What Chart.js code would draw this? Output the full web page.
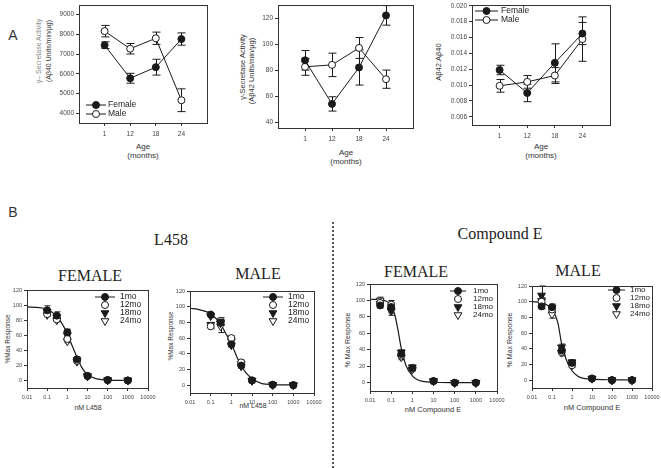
<!DOCTYPE html>
<html>
<head>
<meta charset="utf-8">
<script src="https://cdn.jsdelivr.net/npm/chart.js@4.4.0/dist/chart.umd.min.js"></script>
<style>
body { margin: 0; background: #fff; width: 661px; height: 468px; position: relative; overflow: hidden;
       font-family: Arial, "Liberation Sans", sans-serif; color: #333; }
canvas { position: absolute; }
.t { position: absolute; white-space: nowrap; transform: translate(-50%, -50%); line-height: 1; }
.v { transform: translate(-50%, -50%) rotate(-90deg); }
.serif { font-family: "Liberation Serif", "Times New Roman", serif; color: #222; }
</style>
</head>
<body>

<!-- panel letters and headings -->
<div class="t" style="left:13px;top:35px;font-size:14px">A</div>
<div class="t" style="left:13px;top:212px;font-size:14px">B</div>
<div class="t serif" style="left:171px;top:240px;font-size:16px">L458</div>
<div class="t serif" style="left:500px;top:234px;font-size:16px">Compound E</div>
<div class="t serif" style="left:90px;top:276px;font-size:16px">FEMALE</div>
<div class="t serif" style="left:258px;top:274px;font-size:16px">MALE</div>
<div class="t serif" style="left:416px;top:272px;font-size:16px">FEMALE</div>
<div class="t serif" style="left:578px;top:271px;font-size:16px">MALE</div>
<div style="position:absolute;left:332px;top:222px;height:246px;border-left:2px dotted #555"></div>

<!-- axis titles, top row -->
<div class="t v" style="left:38px;top:51px;font-size:7px;color:#888">γ– Secretase Activity</div>
<div class="t v" style="left:48px;top:51px;font-size:7px">(Aβ40 Units/min/μg)</div>
<div class="t" style="left:143px;top:147px;font-size:8px">Age</div>
<div class="t" style="left:143px;top:156px;font-size:8px">(months)</div>
<div class="t v" style="left:243px;top:67px;font-size:7.5px">γ-Secretase Activity</div>
<div class="t v" style="left:252px;top:71px;font-size:7.5px">(Aβ42 Units/min/μg)</div>
<div class="t" style="left:346px;top:153px;font-size:8px">Age</div>
<div class="t" style="left:346px;top:162px;font-size:8px">(months)</div>
<div class="t v" style="left:439px;top:62px;font-size:7.5px">Aβ42:Aβ40</div>
<div class="t" style="left:541px;top:147px;font-size:8px">Age</div>
<div class="t" style="left:541px;top:156px;font-size:8px">(months)</div>

<!-- axis titles, bottom row -->
<div class="t v" style="left:8px;top:339px;font-size:6.5px">%Max Response</div>
<div class="t" style="left:88px;top:407px;font-size:7px">nM L458</div>
<div class="t v" style="left:171px;top:336px;font-size:6.5px">%Max Response</div>
<div class="t" style="left:253px;top:405px;font-size:7px">nM L458</div>
<div class="t v" style="left:347px;top:340px;font-size:7px">% Max Response</div>
<div class="t" style="left:433px;top:410px;font-size:7.5px">nM Compound E</div>
<div class="t v" style="left:509px;top:340px;font-size:7px">% Max Response</div>
<div class="t" style="left:592px;top:408px;font-size:7.5px">nM Compound E</div>

<script>
// ---- Panel A: gamma-secretase activity by age ----
const ageLabels = ['1', '12', '18', '24'];

const ab40Female = [7450, 5780, 6340, 7760];
const ab40FemaleErr = [170, 250, 400, 310];
const ab40Male = [8160, 7270, 7800, 4670];
const ab40MaleErr = [290, 265, 310, 575];

const ab42Female = [87.5, 54, 82, 122];
const ab42FemaleErr = [7.5, 5.5, 13.5, 7.5];
const ab42Male = [82.5, 84, 97, 73];
const ab42MaleErr = [6.5, 9, 8, 7];

const ratioFemale = [0.0119, 0.0090, 0.0128, 0.0165];
const ratioFemaleErr = [0.0006, 0.0011, 0.0024, 0.0014];
const ratioMale = [0.0099, 0.0104, 0.0112, 0.0158];
const ratioMaleErr = [0.0008, 0.0008, 0.0010, 0.0028];

// ---- Panel B: dose response ----
const logTicks = [0.01, 0.1, 1, 10, 100, 1000, 10000];
const pctTicks = [0, 20, 40, 60, 80, 100, 120];
const ageGroups = ['1mo', '12mo', '18mo', '24mo'];

const doseL458 = [0.1, 0.3, 1, 3, 10, 100, 1000];
const doseCpdE = [0.03, 0.1, 0.3, 1, 10, 100, 1000];

// female L458
const fL458_1 = [93, 86, 64, 28, 6, 0.5, 0];
const fL458_12 = [88, 81, 55, 26, 6, 0.5, 0];
const fL458_18 = [91, 84, 60, 27, 5.5, 0.5, 0];
const fL458_24 = [87, 80, 52, 25, 6, 0.3, 0];
const fL458Err = [6, 5, 4, 3, 1, 1, 1];
const fL458FitDose = [0.01, 0.03, 0.1, 0.3, 0.5, 1, 2, 3, 5, 10, 30, 100, 1000];
const fL458Fit = [97.5, 97, 94.5, 85, 77, 62, 42, 31, 18, 7.5, 2, 0.5, 0.2];

// male L458
const mL458_1 = [90, 80, 52, 25, 6, 0.5, 0];
const mL458_12 = [75, 82, 60, 29, 6, 0.5, 0];
const mL458_18 = [88, 79, 51, 24, 5.5, 0.5, 0];
const mL458_24 = [77, 75, 56, 27, 6, 0.3, 0];
const mL458Err = [3, 8, 4, 3, 1, 1, 1];
const mL458FitDose = [0.01, 0.03, 0.1, 0.3, 0.5, 1, 2, 3, 5, 10, 30, 100, 1000];
const mL458Fit = [98, 96, 91, 78, 67.5, 53, 34, 25, 16, 8.5, 2, 0.8, 0.3];

// female Compound E
const fCpdE_1 = [94, 92, 35, 18, 2, 0, 0];
const fCpdE_12 = [97, 95, 33, 17, 2, 0, 0];
const fCpdE_18 = [96, 88, 37, 19, 2, 0, 0];
const fCpdE_24 = [100, 87, 31, 16, 2, 0, 0];
const fCpdEErr = [4, 5, 3, 2, 1, 1, 1];
const fCpdEFitDose = [0.01, 0.03, 0.05, 0.1, 0.15, 0.2, 0.3, 0.5, 1, 2, 3, 10, 100, 1000];
const fCpdEFit = [101.5, 101, 100, 94, 82, 67, 42, 21, 8.5, 3, 1.8, 0.6, 0.2, 0.1];

// male Compound E
const mCpdE_1 = [94, 93, 38, 22, 2, 0, 0];
const mCpdE_12 = [100, 90, 36, 19, 2, 0, 0];
const mCpdE_18 = [108, 92, 42, 23, 2, 0, 0];
const mCpdE_24 = [101, 84, 35, 19, 2, 0, 0];
const mCpdEErr = [4, 5, 4, 2, 1, 1, 1];
const mCpdE18Err = [12, 5, 4, 2, 1, 1, 1];
const mCpdEFitDose = [0.01, 0.03, 0.1, 0.15, 0.2, 0.3, 0.5, 1, 2, 3, 10, 100, 1000];
const mCpdEFit = [100, 99, 90, 82, 72, 47, 27, 12, 5, 3, 1.2, 0.4, 0.2];

const INK = '#1a1a1a';
const TICK = '#444';

// draw one marker (circle or down triangle)
function drawMarker(ctx, style, x, y, fill) {
    ctx.beginPath();
    if (style === 'triangle') {
        const r = 4.5;
        ctx.moveTo(x, y + r);
        ctx.lineTo(x - r * 0.866, y - r / 2);
        ctx.lineTo(x + r * 0.866, y - r / 2);
        ctx.closePath();
    } else {
        ctx.arc(x, y, 3.5, 0, Math.PI * 2);
    }
    ctx.fillStyle = fill ? INK : '#fff';
    ctx.fill();
    ctx.lineWidth = 1;
    ctx.strokeStyle = INK;
    ctx.stroke();
}

// frame, error bars and the little legend inside the plot
function decorPlugin(box, legend, capW) {
    return {
        id: 'decor',
        beforeDatasetsDraw(chart) {
            const ctx = chart.ctx;
            ctx.save();
            ctx.strokeStyle = INK;
            ctx.lineWidth = 1;
            chart.data.datasets.forEach((ds, i) => {
                if (!ds.errors) return;
                const xs = chart.scales.x, ys = chart.scales.y;
                ds.data.forEach((p, j) => {
                    const e = ds.errors[j];
                    if (!e) return;
                    const px = Math.round(xs.getPixelForValue(p.x)) + 0.5;
                    const top = ys.getPixelForValue(p.y + e);
                    const bot = ys.getPixelForValue(p.y - e);
                    ctx.beginPath();
                    ctx.moveTo(px, top); ctx.lineTo(px, bot);
                    ctx.moveTo(px - capW, top); ctx.lineTo(px + capW, top);
                    ctx.moveTo(px - capW, bot); ctx.lineTo(px + capW, bot);
                    ctx.stroke();
                });
            });
            ctx.restore();
        },
        afterDraw(chart) {
            const ctx = chart.ctx;
            const a = chart.chartArea;
            ctx.save();
            ctx.strokeStyle = '#333';
            ctx.lineWidth = 1;
            ctx.strokeRect(Math.round(a.left) + 0.5, Math.round(a.top) + 0.5,
                           Math.round(a.right - a.left), Math.round(a.bottom - a.top));
            if (legend) {
                ctx.font = legend.size + 'px Arial, "Liberation Sans", sans-serif';
                ctx.textBaseline = 'middle';
                legend.items.forEach((it, i) => {
                    const y = legend.y - box.top + i * legend.rowH;
                    const x0 = legend.x0 - box.left, x1 = legend.x1 - box.left;
                    if (it.line) {
                        ctx.strokeStyle = INK;
                        ctx.beginPath(); ctx.moveTo(x0, y); ctx.lineTo(x1, y); ctx.stroke();
                    }
                    drawMarker(ctx, it.style, (x0 + x1) / 2, y, it.fill);
                    ctx.fillStyle = '#222';
                    ctx.fillText(it.label, legend.tx - box.left, y);
                });
            }
            ctx.restore();
        }
    };
}

function makeChart(box, area, scales, datasets, legend, capW) {
    const canvas = document.createElement('canvas');
    canvas.width = box.w;
    canvas.height = box.h;
    canvas.style.left = box.left + 'px';
    canvas.style.top = box.top + 'px';
    document.body.appendChild(canvas);

    const yWidth = area.x0 - box.left;
    const xHeight = box.top + box.h - area.y1;
    scales.x.afterFit = s => { s.height = xHeight; s.paddingLeft = s.paddingRight = 0; s.paddingTop = s.paddingBottom = 0; };
    scales.y.afterFit = s => { s.width = yWidth; s.paddingLeft = s.paddingRight = 0; s.paddingTop = s.paddingBottom = 0; };

    return new Chart(canvas.getContext('2d'), {
        data: { datasets: datasets },
        options: {
            responsive: false,
            animation: false,
            layout: { padding: { top: area.y0 - box.top, right: box.left + box.w - area.x1, left: 0, bottom: 0 } },
            plugins: { legend: { display: false }, tooltip: { enabled: false } },
            scales: scales
        },
        plugins: [decorPlugin(box, legend, capW)]
    });
}

function axisStyle(size) {
    return {
        grid: { drawOnChartArea: false, drawTicks: true, tickLength: 3, color: '#333' },
        border: { color: '#333', width: 1 },
        ticks: { font: { size: size, family: 'Arial, "Liberation Sans", sans-serif' }, color: TICK, padding: 2, maxRotation: 0, autoSkip: false }
    };
}

function ageScales(yMin, yMax, yTicks, yFmt) {
    const x = axisStyle(6.5);
    x.type = 'linear'; x.min = 0; x.max = 5;
    x.afterBuildTicks = s => { s.ticks = [1, 2, 3, 4].map(v => ({ value: v })); };
    x.ticks.callback = v => ageLabels[v - 1];
    x.ticks.padding = 4;
    const y = axisStyle(6.5);
    y.type = 'linear'; y.min = yMin; y.max = yMax;
    y.afterBuildTicks = s => { s.ticks = yTicks.map(v => ({ value: v })); };
    y.ticks.callback = yFmt;
    return { x: x, y: y };
}

function ageLine(vals, errs, filled) {
    return {
        type: 'line',
        data: vals.map((v, i) => ({ x: i + 1, y: v })),
        errors: errs,
        borderColor: INK, borderWidth: 1, tension: 0,
        pointRadius: 3.5, pointBorderWidth: 1,
        pointBackgroundColor: filled ? INK : '#fff', pointBorderColor: INK
    };
}

const sexLegend = [
    { label: 'Female', style: 'circle', fill: true, line: true },
    { label: 'Male', style: 'circle', fill: false, line: true }
];

// A1: Abeta40 activity
makeChart({ left: 55, top: 0, w: 160, h: 140 }, { x0: 79, y0: 2, x1: 207, y1: 123 },
    ageScales(3520, 9480, [4000, 5000, 6000, 7000, 8000, 9000], v => String(v)),
    [ageLine(ab40Female, ab40FemaleErr, true), ageLine(ab40Male, ab40MaleErr, false)],
    { x0: 86, x1: 106, tx: 108, y: 105, rowH: 9, size: 8.5, items: sexLegend }, 4);

// A2: Abeta42 activity
makeChart({ left: 254, top: 0, w: 170, h: 145 }, { x0: 278, y0: 3, x1: 413, y1: 128 },
    ageScales(35.5, 130, [40, 60, 80, 100, 120], v => String(v)),
    [ageLine(ab42Female, ab42FemaleErr, true), ageLine(ab42Male, ab42MaleErr, false)],
    null, 4);

// A3: ratio
makeChart({ left: 444, top: 0, w: 177, h: 142 }, { x0: 472, y0: 4, x1: 610, y1: 125 },
    ageScales(0.00496, 0.0201, [0.006, 0.008, 0.010, 0.012, 0.014, 0.016, 0.018, 0.020], v => v.toFixed(3)),
    [ageLine(ratioFemale, ratioFemaleErr, true), ageLine(ratioMale, ratioMaleErr, false)],
    { x0: 475, x1: 498, tx: 501, y: 11, rowH: 9, size: 8.5, items: sexLegend }, 4);

// ---- dose response panels ----
function doseScales() {
    const x = axisStyle(5.5);
    x.type = 'logarithmic'; x.min = 0.01; x.max = 10000;
    x.afterBuildTicks = s => { s.ticks = logTicks.map(v => ({ value: v })); };
    x.ticks.callback = v => String(v);
    x.ticks.padding = 3;
    const y = axisStyle(5.5);
    y.type = 'linear'; y.min = -10; y.max = 120;
    y.afterBuildTicks = s => { s.ticks = pctTicks.map(v => ({ value: v })); };
    y.ticks.callback = v => String(v);
    return { x: x, y: y };
}

const markerStyles = [
    { style: 'circle', fill: true },
    { style: 'circle', fill: false },
    { style: 'triangle', fill: true },
    { style: 'triangle', fill: false }
];

function doseSeries(doses, vals, errs, k) {
    const m = markerStyles[k];
    return {
        type: 'scatter',
        data: doses.map((d, i) => ({ x: d, y: vals[i] })),
        errors: errs,
        showLine: false,
        pointStyle: m.style,
        pointRotation: m.style === 'triangle' ? 180 : 0,
        pointRadius: m.style === 'triangle' ? 4.5 : 3.5,
        pointBorderWidth: 1,
        pointBackgroundColor: m.fill ? INK : '#fff',
        pointBorderColor: INK
    };
}

function fitLine(doses, vals) {
    return {
        type: 'line',
        data: doses.map((d, i) => ({ x: d, y: vals[i] })),
        borderColor: INK, borderWidth: 1.2, pointRadius: 0,
        cubicInterpolationMode: 'monotone'
    };
}

function ageLegend(x0, x1, tx, y, rowH, size) {
    return {
        x0: x0, x1: x1, tx: tx, y: y, rowH: rowH, size: size,
        items: ageGroups.map((g, k) => ({ label: g, style: markerStyles[k].style, fill: markerStyles[k].fill, line: k === 0 }))
    };
}

// B1: female L458
makeChart({ left: 0, top: 278, w: 160, h: 127 }, { x0: 27, y0: 290, x1: 148, y1: 388 }, doseScales(), [
    doseSeries(doseL458, fL458_1, fL458Err, 0),
    doseSeries(doseL458, fL458_12, [2, 2, 3, 2, 0, 0, 0], 1),
    doseSeries(doseL458, fL458_18, [3, 3, 3, 2, 0, 0, 0], 2),
    doseSeries(doseL458, fL458_24, [2, 2, 2, 2, 0, 0, 0], 3),
    fitLine(fL458FitDose, fL458Fit)
], ageLegend(95, 115, 120, 297, 8, 8.5), 3);

// B2: male L458
makeChart({ left: 163, top: 278, w: 160, h: 130 }, { x0: 190, y0: 291, x1: 314, y1: 393 }, doseScales(), [
    doseSeries(doseL458, mL458_1, [2, 3, 3, 2, 0, 0, 0], 0),
    doseSeries(doseL458, mL458_12, [3, 4, 3, 3, 0, 0, 0], 1),
    doseSeries(doseL458, mL458_18, [2, 3, 2, 2, 0, 0, 0], 2),
    doseSeries(doseL458, mL458_24, mL458Err, 3),
    fitLine(mL458FitDose, mL458Fit)
], ageLegend(263, 283, 288, 297, 8, 8.5), 3);

// B3: female Compound E
makeChart({ left: 343, top: 270, w: 165, h: 140 }, { x0: 370, y0: 284, x1: 497, y1: 391 }, doseScales(), [
    doseSeries(doseCpdE, fCpdE_1, [3, 3, 3, 2, 0, 0, 0], 0),
    doseSeries(doseCpdE, fCpdE_12, [3, 5, 3, 2, 0, 0, 0], 1),
    doseSeries(doseCpdE, fCpdE_18, [3, 3, 3, 2, 0, 0, 0], 2),
    doseSeries(doseCpdE, fCpdE_24, fCpdEErr, 3),
    fitLine(fCpdEFitDose, fCpdEFit)
], ageLegend(450, 466, 473, 291, 8, 8), 3);

// B4: male Compound E
makeChart({ left: 505, top: 275, w: 156, h: 130 }, { x0: 532, y0: 286, x1: 652, y1: 388 }, doseScales(), [
    doseSeries(doseCpdE, mCpdE_1, [3, 3, 3, 2, 0, 0, 0], 0),
    doseSeries(doseCpdE, mCpdE_12, [3, 4, 3, 2, 0, 0, 0], 1),
    doseSeries(doseCpdE, mCpdE_18, mCpdE18Err, 2),
    doseSeries(doseCpdE, mCpdE_24, mCpdEErr, 3),
    fitLine(mCpdEFitDose, mCpdEFit)
], ageLegend(608, 625, 630, 290, 8, 8), 3);
</script>
</body>
</html>
